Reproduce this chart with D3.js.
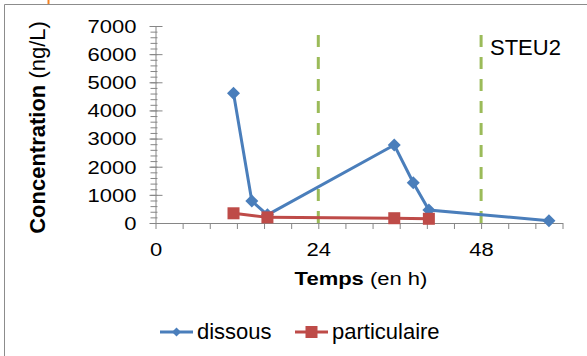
<!DOCTYPE html>
<html>
<head>
<meta charset="utf-8">
<script src="https://cdn.jsdelivr.net/npm/d3@7"></script>
<style>
  body { margin: 0; background: #fff; }
  svg { display: block; font-family: "Liberation Sans", Arial, sans-serif; }
</style>
</head>
<body>
<div id="chart"></div>
<script>
// values
let dissousHours = [11.5, 14.2, 16.5, 35.2, 38, 40.3, 58];
let dissousValues = [4610, 780, 290, 2770, 1430, 460, 80];
let particHours = [11.5, 16.5, 35.2, 40.3];
let particValues = [345, 200, 170, 150];
let markerHours = [24, 48];
let seriesNames = ["dissous", "particulaire"];
let yTicks = [0, 1000, 2000, 3000, 4000, 5000, 6000, 7000];
let xLabels = [0, 24, 48];

let width = 587, height = 356;
let blue = "#4a7ebb", red = "#be4b48", green = "#9bbb59", axisGrey = "#868686";

let svg = d3.select("#chart").append("svg")
    .attr("width", width)
    .attr("height", height);

// outer frame
svg.append("path")
    .attr("d", "M4.5,356 V4.5 H587")
    .style("fill", "none")
    .style("stroke", "#8c8c8c")
    .style("stroke-width", 1);
svg.append("line")
    .attr("x1", 48.5).attr("x2", 48.5).attr("y1", 0).attr("y2", 4)
    .style("stroke", "#f58220").style("stroke-width", 2);

let x = d3.scaleLinear().domain([0, 60]).range([155.5, 562.5]);
let y = d3.scaleLinear().domain([0, 7000]).range([223, 26]);

// y axis minor ticks
svg.append("g")
    .attr("transform", "translate(155.5,0)")
    .call(d3.axisLeft(y).tickValues(d3.range(0, 7001, 200)).tickFormat("").tickSize(5).tickSizeOuter(0))
    .call(g => g.select(".domain").remove())
    .call(g => g.selectAll("line").style("stroke", axisGrey).attr("x2", -5).attr("x1", 2));

// y axis major ticks + labels
let yAxis = svg.append("g")
    .attr("transform", "translate(155.5,0)")
    .call(d3.axisLeft(y).tickValues(yTicks).tickFormat(d3.format("d"))
        .tickSize(6).tickSizeOuter(0).tickPadding(20));
yAxis.select(".domain").style("stroke", axisGrey);
yAxis.selectAll(".tick line").style("stroke", axisGrey).attr("x1", -6).attr("x2", 7);
yAxis.selectAll(".tick text")
    .style("font-size", "22px").style("fill", "#000")
    .attr("x", -19).attr("dy", "0.35em")
    .attr("transform", "scale(1,0.83)");

// x axis
let xAxis = svg.append("g")
    .attr("transform", "translate(0,223)")
    .call(d3.axisBottom(x).tickValues(d3.range(0, 61, 4))
        .tickFormat(d => xLabels.includes(d) ? d : "")
        .tickSize(6).tickSizeOuter(0));
xAxis.select(".domain").style("stroke", axisGrey);
xAxis.selectAll(".tick line").style("stroke", axisGrey);
xAxis.selectAll(".tick text")
    .style("font-size", "22px").style("fill", "#000")
    .attr("y", 40).attr("dy", 0)
    .attr("transform", "scale(1,0.83)");

// dashed markers at 24 h and 48 h
svg.selectAll(".vmark")
    .data(markerHours)
    .enter()
    .append("line")
    .attr("class", "vmark")
    .attr("x1", d => x(d)).attr("x2", d => x(d))
    .attr("y1", 35).attr("y2", 223)
    .style("stroke", green)
    .style("stroke-width", 3)
    .style("stroke-dasharray", "12,10");

svg.append("text")
    .attr("x", 490).attr("y", 55)
    .style("font-size", "22px")
    .text("STEU2");

let dissous = dissousHours.map((h, i) => [h, dissousValues[i]]);
let partic = particHours.map((h, i) => [h, particValues[i]]);
let line = d3.line().x(d => x(d[0])).y(d => y(d[1]));

svg.append("path")
    .datum(dissous)
    .attr("d", line)
    .style("fill", "none").style("stroke", blue).style("stroke-width", 3);
svg.selectAll(".diamond")
    .data(dissous)
    .enter()
    .append("path")
    .attr("class", "diamond")
    .attr("transform", d => "translate(" + x(d[0]) + "," + y(d[1]) + ")")
    .attr("d", "M0,-6.5 L6.5,0 L0,6.5 L-6.5,0 Z")
    .style("fill", blue);

svg.append("path")
    .datum(partic)
    .attr("d", line)
    .style("fill", "none").style("stroke", red).style("stroke-width", 3);
svg.selectAll(".square")
    .data(partic)
    .enter()
    .append("rect")
    .attr("class", "square")
    .attr("x", d => x(d[0]) - 6).attr("y", d => y(d[1]) - 6)
    .attr("width", 12).attr("height", 12)
    .style("fill", red);

// axis titles
let yTitle = svg.append("text")
    .attr("transform", "translate(45,127.5) rotate(-90)")
    .attr("text-anchor", "middle")
    .style("font-size", "22px");
yTitle.append("tspan").style("font-weight", "bold").text("Concentration");
yTitle.append("tspan").text(" (ng/L)");

let xTitle = svg.append("text")
    .attr("transform", "translate(361,285) scale(1,0.83)")
    .attr("text-anchor", "middle")
    .style("font-size", "22px");
xTitle.append("tspan").style("font-weight", "bold").text("Temps");
xTitle.append("tspan").text(" (en h)");

// legend
let legend = svg.append("g").attr("transform", "translate(0,332)");
let legendX = [160, 295];
legend.selectAll(".lline")
    .data(seriesNames)
    .enter()
    .append("line")
    .attr("x1", (d, i) => legendX[i]).attr("x2", (d, i) => legendX[i] + 33)
    .attr("y1", 0).attr("y2", 0)
    .style("stroke", (d, i) => [blue, red][i])
    .style("stroke-width", 3);
legend.append("path")
    .attr("transform", "translate(176.5,0)")
    .attr("d", "M0,-4.5 L4.5,0 L0,4.5 L-4.5,0 Z")
    .style("fill", blue);
legend.append("rect")
    .attr("x", 305.5).attr("y", -6).attr("width", 12).attr("height", 12)
    .style("fill", red);
legend.selectAll(".ltext")
    .data(seriesNames)
    .enter()
    .append("text")
    .attr("x", (d, i) => legendX[i] + 37)
    .attr("y", 6.5)
    .style("font-size", "22px")
    .text(d => d);
</script>
</body>
</html>
